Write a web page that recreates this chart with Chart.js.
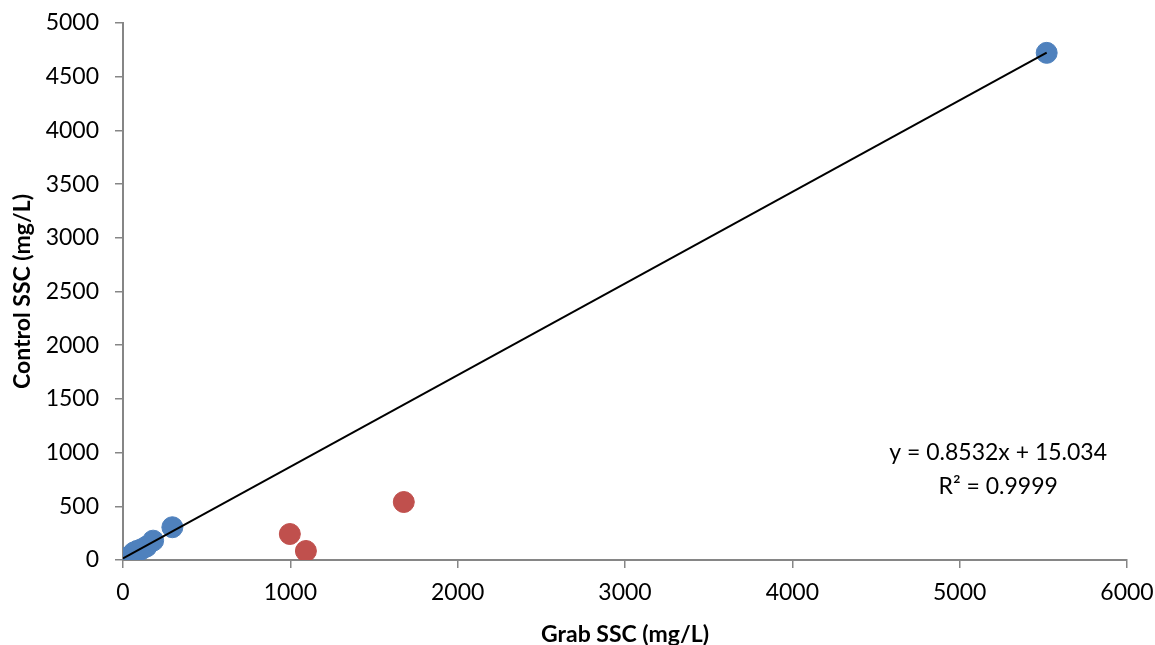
<!DOCTYPE html>
<html>
<head>
<meta charset="utf-8">
<script src="https://cdn.jsdelivr.net/npm/chart.js@4"></script>
<style>
  html, body { margin: 0; padding: 0; background: #fff; }
  #wrap { width: 1155px; height: 645px; position: relative; }
</style>
</head>
<body>
<div id="wrap"><canvas id="c" width="1155" height="645"></canvas></div>
<script>
// Data
const grabBlue    = [0, 10, 25, 45, 65, 85, 110, 140, 180, 295, 5520];
const controlBlue = [0, 12, 22, 40, 70, 85, 100, 125, 180, 305, 4722];
const grabRed     = [997, 1093, 1678];
const controlRed  = [242, 84, 540];
const trendSlope = 0.8532;
const trendIntercept = 15.034;
const trendText = ['y = 0.8532x + 15.034', 'R² = 0.9999'];
const xTitle = 'Grab SSC (mg/L)';
const yTitle = 'Control SSC (mg/L)';

const FONT = 'Lato, "Open Sans", sans-serif';
const AXIS = '#868686';

const bluePts = grabBlue.map((x, i) => ({ x, y: controlBlue[i] }));
const redPts = grabRed.map((x, i) => ({ x, y: controlRed[i] }));
const xMin = Math.min(...grabBlue), xMax = Math.max(...grabBlue);
const trendPts = [xMin, xMax].map(x => ({ x, y: trendSlope * x + trendIntercept }));

const annotation = {
  id: 'trendLabel',
  afterDatasetsDraw(chart) {
    const { ctx, scales: { x, y } } = chart;
    ctx.save();
    ctx.fillStyle = '#000';
    ctx.font = '23px ' + FONT;
    ctx.textAlign = 'center';
    ctx.textBaseline = 'middle';
    const cx = x.getPixelForValue(5230);
    ctx.fillText(trendText[0], cx, y.getPixelForValue(1000));
    ctx.fillText(trendText[1], cx, y.getPixelForValue(680));
    ctx.restore();
  }
};

new Chart(document.getElementById('c'), {
  type: 'scatter',
  data: {
    datasets: [
      { data: bluePts, backgroundColor: '#4F81BD', borderColor: '#4F81BD', pointRadius: 10.5, pointHoverRadius: 10.5, order: 2 },
      { data: redPts, backgroundColor: '#C0504D', borderColor: '#C0504D', pointRadius: 10.5, pointHoverRadius: 10.5, order: 2 },
      { type: 'line', data: trendPts, borderColor: '#000', borderWidth: 2, pointRadius: 0, fill: false, order: 1 }
    ]
  },
  options: {
    responsive: false,
    animation: false,
    events: [],
    layout: { padding: { top: 23, right: 28, bottom: 0, left: 0 } },
    plugins: { legend: { display: false }, tooltip: { enabled: false } },
    scales: {
      x: {
        type: 'linear', min: 0, max: 6000,
        ticks: { stepSize: 1000, color: '#000', font: { family: FONT, size: 23 }, padding: 11, maxRotation: 0, callback: v => String(v) },
        grid: { drawOnChartArea: false, drawTicks: true, tickLength: 8, color: AXIS, lineWidth: 1.5 },
        border: { color: AXIS, width: 2 },
        title: { display: true, text: xTitle, color: '#000', font: { family: FONT, size: 23, weight: 'bold', lineHeight: 0.9 }, padding: 0 },
        afterFit(s) { s.height = 85; s.paddingLeft = 0; s.paddingRight = 0; }
      },
      y: {
        type: 'linear', min: 0, max: 5000,
        ticks: { stepSize: 500, color: '#000', font: { family: FONT, size: 23 }, padding: 16, callback: v => String(v) },
        grid: { drawOnChartArea: false, drawTicks: true, tickLength: 8, color: AXIS, lineWidth: 1.5 },
        border: { color: AXIS, width: 2 },
        title: { display: true, text: yTitle, color: '#000', font: { family: FONT, size: 23, weight: 'bold' }, padding: { top: 9, bottom: 0 } },
        afterFit(s) { s.width = 123; s.paddingTop = 0; s.paddingBottom = 0; }
      }
    }
  },
  plugins: [annotation]
});
</script>
</body>
</html>
